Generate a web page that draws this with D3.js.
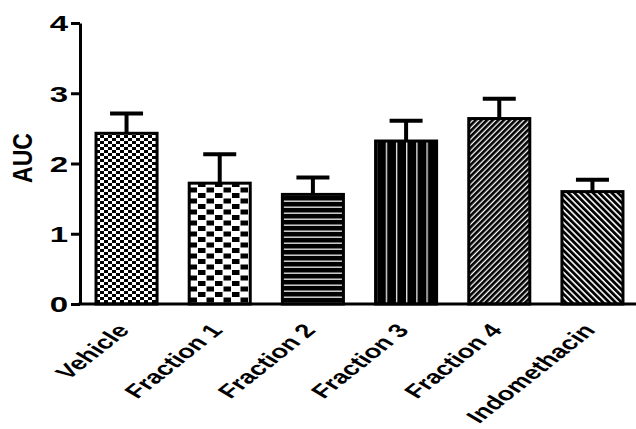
<!DOCTYPE html>
<html>
  <head>
    <meta charset="utf-8">
    <script src="https://d3js.org/d3.v7.min.js"></script>
    <style>
      body { margin: 0; background: #fff; }
      text { font-family: "Liberation Sans", Arial, sans-serif; font-weight: bold; fill: #000; }
    </style>
  </head>
<body>
<script>
  // values
  var groups = ["Vehicle", "Fraction 1", "Fraction 2", "Fraction 3", "Fraction 4", "Indomethacin"];
  var means  = [2.43, 1.72, 1.56, 2.32, 2.64, 1.60];
  var sems   = [0.28, 0.41, 0.24, 0.29, 0.28, 0.17];
  var yTicks = [0, 1, 2, 3, 4];
  var patternIds = ["pVehicle", "pF1", "pF2", "pF3", "pF4", "pIndo"];

  var width = 636, height = 429;
  var sx = 1.5; // the figure is stretched sideways, text too

  var svg = d3.select("body").append("svg")
      .attr("width", width)
      .attr("height", height);

  var x = d3.scaleBand()
      .domain(groups)
      .range([80, 639])
      .paddingInner(0.345)
      .paddingOuter(0.172);

  var y = d3.scaleLinear()
      .domain([0, 4])
      .range([304, 23]);

  // fill patterns
  var defs = svg.append("defs");

  // fine checker
  var p = defs.append("pattern").attr("id", "pVehicle")
      .attr("patternUnits", "userSpaceOnUse").attr("width", 8).attr("height", 6);
  p.append("rect").attr("width", 8).attr("height", 6).attr("fill", "#fff");
  p.append("rect").attr("width", 4).attr("height", 3).attr("fill", "#000");
  p.append("rect").attr("x", 4).attr("y", 3).attr("width", 4).attr("height", 3).attr("fill", "#000");

  // coarse checker
  p = defs.append("pattern").attr("id", "pF1")
      .attr("patternUnits", "userSpaceOnUse").attr("width", 17).attr("height", 11)
      .attr("x", 2);
  p.append("rect").attr("width", 17).attr("height", 11).attr("fill", "#fff");
  p.append("rect").attr("x", 0.5).attr("y", 0.5).attr("width", 7.5).attr("height", 5).attr("fill", "#000");
  p.append("rect").attr("x", 9).attr("y", 6).attr("width", 7.5).attr("height", 5).attr("fill", "#000");

  // horizontal lines
  p = defs.append("pattern").attr("id", "pF2")
      .attr("patternUnits", "userSpaceOnUse").attr("width", 10).attr("height", 6);
  p.append("rect").attr("width", 10).attr("height", 6).attr("fill", "#000");
  p.append("rect").attr("y", 2.5).attr("width", 10).attr("height", 1.4).attr("fill", "#ddd");

  // vertical lines, 6 columns per bar
  p = defs.append("pattern").attr("id", "pF3")
      .attr("patternUnits", "objectBoundingBox")
      .attr("width", 1 / 6).attr("height", 1);
  p.append("rect").attr("width", 20).attr("height", 400).attr("fill", "#000");
  p.append("rect").attr("x", 0).attr("width", 1.3).attr("height", 400).attr("fill", "#eee");

  // diagonal  ////
  p = defs.append("pattern").attr("id", "pF4")
      .attr("patternUnits", "userSpaceOnUse").attr("width", 4).attr("height", 4)
      .attr("patternTransform", "rotate(45)");
  p.append("rect").attr("width", 4).attr("height", 4).attr("fill", "#fff");
  p.append("rect").attr("width", 2.7).attr("height", 4).attr("fill", "#000");

  // diagonal  \\\\
  p = defs.append("pattern").attr("id", "pIndo")
      .attr("patternUnits", "userSpaceOnUse").attr("width", 4.4).attr("height", 4.4)
      .attr("patternTransform", "rotate(-45)");
  p.append("rect").attr("width", 4.4).attr("height", 4.4).attr("fill", "#fff");
  p.append("rect").attr("width", 2.8).attr("height", 4.4).attr("fill", "#000");

  // error bars (drawn under the bars so the stem starts at the top edge)
  var err = svg.append("g").attr("class", "errors")
    .selectAll("g").data(groups).enter().append("g");
  err.append("line")
      .attr("x1", function (d) { return x(d) + x.bandwidth() / 2; })
      .attr("x2", function (d) { return x(d) + x.bandwidth() / 2; })
      .attr("y1", function (d, i) { return y(means[i]); })
      .attr("y2", function (d, i) { return y(means[i] + sems[i]); })
      .attr("stroke", "#000").attr("stroke-width", 4);
  err.append("line")
      .attr("x1", function (d) { return x(d) + x.bandwidth() / 2 - 16.5; })
      .attr("x2", function (d) { return x(d) + x.bandwidth() / 2 + 16.5; })
      .attr("y1", function (d, i) { return y(means[i] + sems[i]); })
      .attr("y2", function (d, i) { return y(means[i] + sems[i]); })
      .attr("stroke", "#000").attr("stroke-width", 4);

  // bars
  svg.append("g").attr("class", "bars")
    .selectAll("rect").data(groups).enter().append("rect")
      .attr("x", function (d) { return x(d); })
      .attr("width", x.bandwidth())
      .attr("y", function (d, i) { return y(means[i]); })
      .attr("height", function (d, i) { return y(0) - y(means[i]); })
      .attr("fill", function (d, i) { return "url(#" + patternIds[i] + ")"; })
      .attr("stroke", "#000")
      .attr("stroke-width", 3);

  // y axis
  var yAxis = svg.append("g").attr("transform", "translate(80,0)")
      .call(d3.axisLeft(y).tickValues(yTicks).tickSize(9).tickSizeOuter(0).tickFormat(d3.format("d")));
  yAxis.select(".domain").attr("stroke", "#000").attr("stroke-width", 3);
  yAxis.selectAll(".tick line").attr("stroke", "#000").attr("stroke-width", 3);
  yAxis.selectAll(".tick text")
      .attr("x", 0)
      .attr("dy", "0.36em")
      .attr("transform", "translate(-12,0) scale(" + sx + ",1)")
      .style("font-size", "22px")
      .style("font-family", "'Liberation Sans', Arial, sans-serif")
      .style("font-weight", "bold");

  // x axis line
  svg.append("line")
      .attr("x1", 78.5).attr("x2", width)
      .attr("y1", y(0)).attr("y2", y(0))
      .attr("stroke", "#000").attr("stroke-width", 3);

  // x labels, rotated
  svg.append("g").attr("class", "xlabels")
    .selectAll("text").data(groups).enter().append("text")
      .attr("transform", function (d) {
        return "translate(" + (x(d) + x.bandwidth() / 2 + 4) + ",331) scale(1.45,1) rotate(-49)";
      })
      .attr("text-anchor", "end")
      .style("font-size", "19px")
      .text(function (d) { return d; });

  // y title
  svg.append("text")
      .attr("transform", "translate(32,158) scale(1.2,1) rotate(-90)")
      .attr("text-anchor", "middle")
      .style("font-size", "23px")
      .text("AUC");
</script>
</body>
</html>
